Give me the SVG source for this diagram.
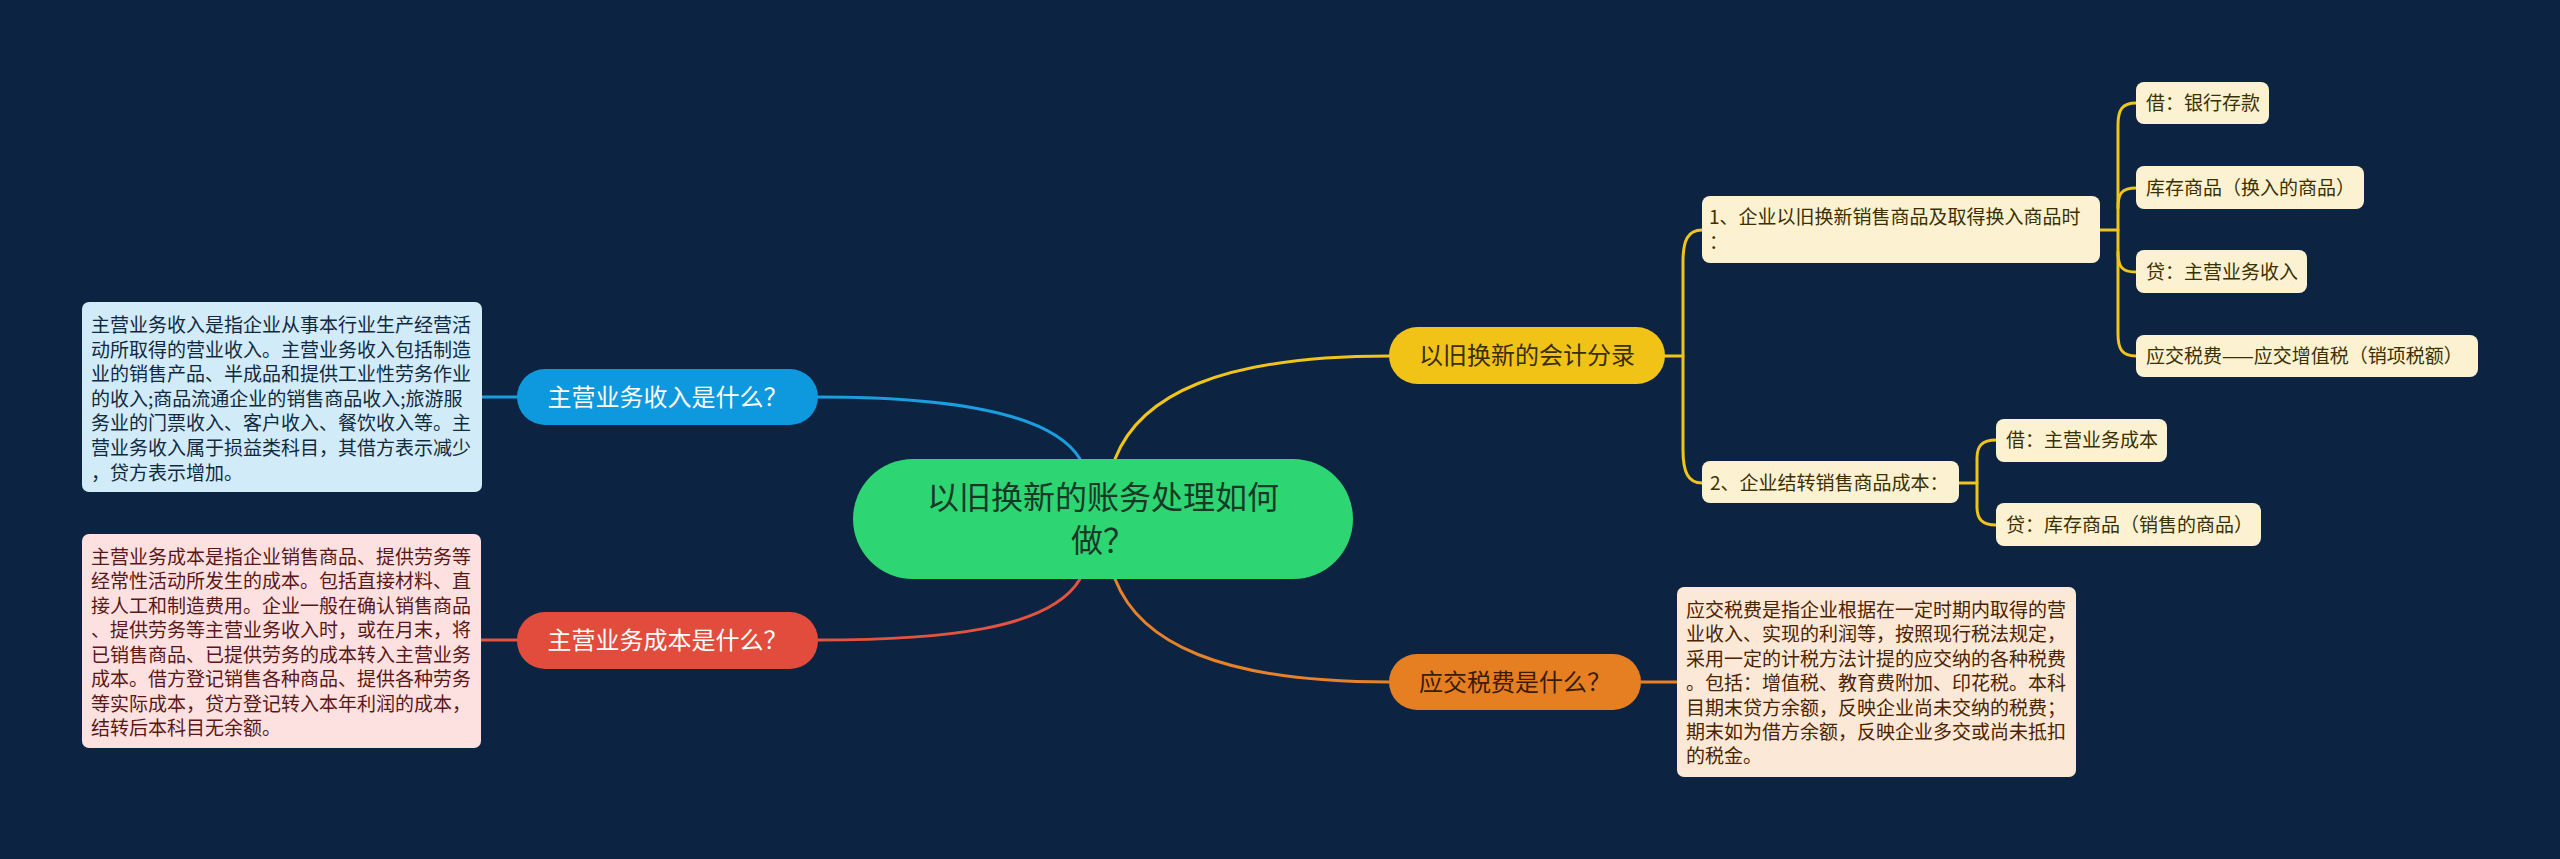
<svg xmlns="http://www.w3.org/2000/svg" width="2560" height="859" viewBox="0 0 2560 859">
<style>
text{font-family:"Noto Sans CJK SC","Noto Sans",sans-serif;}
.c{fill:none;stroke-width:3;stroke-linecap:round;}
.cb{stroke:#1b9ee0;}
.cr{stroke:#e4533f;}
.cy{stroke:#f0c419;}
.co{stroke:#e8822a;}
.t19{font-size:19px;}
.t24{font-size:24px;}
.leaf{fill:#fcf2d2;}
.leaft{fill:#3a3000;}
</style>
<rect x="0" y="0" width="2560" height="859" fill="#0c2442"/>
<g id="connectors">
<path class="c cb" d="M818 397 C940 397 1050 410 1080 459"/>
<path class="c cb" d="M517 397 H482"/>
<path class="c cr" d="M818 640 C940 640 1050 630 1080 579"/>
<path class="c cr" d="M517 640 H481"/>
<path class="c cy" d="M1115 459 C1140 395 1220 356 1389 356"/>
<path class="c co" d="M1115 579 C1140 643 1220 682 1389 682"/>
<path class="c co" d="M1641 682 H1677"/>
<path class="c cy" d="M1665 356 H1683"/>
<path class="c cy" d="M1702 230 C1688 230 1683 240 1683 262 V450 C1683 472 1688 483 1702 483"/>
<path class="c cy" d="M2100 230 H2118"/>
<path class="c cy" d="M2136 103 C2122 103 2118 110 2118 125 V334 C2118 349 2122 356 2136 356"/>
<path class="c cy" d="M2118 208 C2118 193 2122 188 2136 188"/>
<path class="c cy" d="M2118 252 C2118 267 2122 272 2136 272"/>
<path class="c cy" d="M1959 483 H1977"/>
<path class="c cy" d="M1996 440 C1982 440 1977 446 1977 458 V507 C1977 519 1982 525 1996 525"/>
</g>
<g id="root">
<rect x="853" y="459" width="500" height="120" rx="60" fill="#2ed573"/>
<text x="1103" y="509" font-size="32" text-anchor="middle" fill="#173a26">以旧换新的账务处理如何</text>
<text x="1103" y="551.5" font-size="32" text-anchor="middle" fill="#173a26">做？</text>
</g>
<g id="n-income">
<rect x="517" y="369" width="301" height="56" rx="28" fill="#0e98dd"/>
<text class="t24" x="667.5" y="405.5" text-anchor="middle" fill="#ffffff">主营业务收入是什么？</text>
</g>
<g id="n-income-detail">
<rect x="82" y="302" width="400" height="190" rx="7" fill="#d2ebf8"/>
<g class="t19" fill="#0f2a40">
<text x="91" y="332">主营业务收入是指企业从事本行业生产经营活</text>
<text x="91" y="356.6">动所取得的营业收入。主营业务收入包括制造</text>
<text x="91" y="381.2">业的销售产品、半成品和提供工业性劳务作业</text>
<text x="91" y="405.8">的收入;商品流通企业的销售商品收入;旅游服</text>
<text x="91" y="430.4">务业的门票收入、客户收入、餐饮收入等。主</text>
<text x="91" y="455">营业务收入属于损益类科目，其借方表示减少</text>
<text x="91" y="479.6">，贷方表示增加。</text>
</g>
</g>
<g id="n-cost">
<rect x="517" y="612" width="301" height="57" rx="28" fill="#e24c3c"/>
<text class="t24" x="667.5" y="649" text-anchor="middle" fill="#ffffff">主营业务成本是什么？</text>
</g>
<g id="n-cost-detail">
<rect x="82" y="534" width="399" height="214" rx="7" fill="#fde1e1"/>
<g class="t19" fill="#5a1717">
<text x="91" y="563.5">主营业务成本是指企业销售商品、提供劳务等</text>
<text x="91" y="588">经常性活动所发生的成本。包括直接材料、直</text>
<text x="91" y="612.5">接人工和制造费用。企业一般在确认销售商品</text>
<text x="91" y="637">、提供劳务等主营业务收入时，或在月末，将</text>
<text x="91" y="661.5">已销售商品、已提供劳务的成本转入主营业务</text>
<text x="91" y="686">成本。借方登记销售各种商品、提供各种劳务</text>
<text x="91" y="710.5">等实际成本，贷方登记转入本年利润的成本，</text>
<text x="91" y="735">结转后本科目无余额。</text>
</g>
</g>
<g id="n-entries">
<rect x="1389" y="327" width="276" height="57" rx="28.5" fill="#f1c317"/>
<text class="t24" x="1527" y="364" text-anchor="middle" fill="#3a2e00">以旧换新的会计分录</text>
</g>
<g id="n-entry1">
<rect class="leaf" x="1702" y="196" width="398" height="67" rx="8"/>
<text class="t19 leaft" x="1709" y="224">1、企业以旧换新销售商品及取得换入商品时</text>
<text class="t19 leaft" x="1709" y="248.6">：</text>
</g>
<g id="n-entry1-a">
<rect class="leaf" x="2136" y="82" width="133" height="42" rx="8"/>
<text class="t19 leaft" x="2146" y="110">借：银行存款</text>
</g>
<g id="n-entry1-b">
<rect class="leaf" x="2136" y="166" width="228" height="43" rx="8"/>
<text class="t19 leaft" x="2146" y="194.7">库存商品（换入的商品）</text>
</g>
<g id="n-entry1-c">
<rect class="leaf" x="2136" y="250" width="171" height="43" rx="8"/>
<text class="t19 leaft" x="2146" y="278.7">贷：主营业务收入</text>
</g>
<g id="n-entry1-d">
<rect class="leaf" x="2136" y="335" width="342" height="42" rx="8"/>
<text class="t19 leaft" x="2146" y="363">应交税费——应交增值税（销项税额）</text>
</g>
<g id="n-entry2">
<rect class="leaf" x="1702" y="461" width="257" height="42" rx="8"/>
<text class="t19 leaft" x="1710" y="490">2、企业结转销售商品成本：</text>
</g>
<g id="n-entry2-a">
<rect class="leaf" x="1996" y="419" width="171" height="43" rx="8"/>
<text class="t19 leaft" x="2006" y="447">借：主营业务成本</text>
</g>
<g id="n-entry2-b">
<rect class="leaf" x="1996" y="503" width="265" height="43" rx="8"/>
<text class="t19 leaft" x="2006" y="531.7">贷：库存商品（销售的商品）</text>
</g>
<g id="n-tax">
<rect x="1389" y="654" width="252" height="56" rx="28" fill="#e67e22"/>
<text class="t24" x="1515" y="690.5" text-anchor="middle" fill="#3a1c00">应交税费是什么？</text>
</g>
<g id="n-tax-detail">
<rect x="1677" y="587" width="399" height="190" rx="7" fill="#fce8d6"/>
<g class="t19" fill="#4a2300">
<text x="1686" y="617">应交税费是指企业根据在一定时期内取得的营</text>
<text x="1686" y="641.4">业收入、实现的利润等，按照现行税法规定，</text>
<text x="1686" y="665.8">采用一定的计税方法计提的应交纳的各种税费</text>
<text x="1686" y="690.2">。包括：增值税、教育费附加、印花税。本科</text>
<text x="1686" y="714.6">目期末贷方余额，反映企业尚未交纳的税费；</text>
<text x="1686" y="739">期末如为借方余额，反映企业多交或尚未抵扣</text>
<text x="1686" y="763.4">的税金。</text>
</g>
</g>
</svg>
